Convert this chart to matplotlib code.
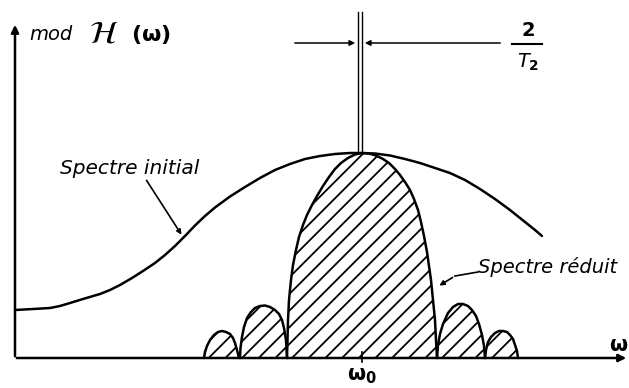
import matplotlib.pyplot as plt

# drawing units: x measured from the vertical axis, y from the frequency axis
OMEGA0 = 347

# broad initial spectrum
init_x = [0, 18, 35, 45, 55, 68, 85, 95, 105, 117, 128, 140, 150, 160, 170,
          180, 190, 200, 215, 230, 245, 260, 275, 290, 305, 320, 335, 347,
          360, 375, 390, 405, 420, 435, 450, 465, 480, 495, 510, 520, 527]
init_y = [48, 49, 50, 52, 55, 59, 64, 68, 73, 80, 87, 95, 103, 112, 122,
          132.5, 142, 150.5, 161.5, 171, 180, 188, 194, 199, 202, 204, 205, 205,
          204.5, 202.5, 199, 195, 190, 185, 178, 169, 159, 148, 136, 128, 122]

# reduced spectrum: main lobe and two side lobes on each side
main_x = [272, 272.5, 273, 274, 276, 278, 281, 284, 288, 292, 297, 302, 308,
          314, 320, 326, 333, 340, 347, 354, 361, 368, 374, 380, 385, 390,
          395, 399, 403, 406, 409, 412, 414, 416, 418, 420, 421, 422]
main_y = [0, 18, 38, 58, 78, 93, 108, 121, 133, 143, 153, 162, 172, 181, 189,
          195, 200, 203.5, 205, 204.5, 202.5, 199, 195, 189, 183, 176, 168,
          159, 148, 136, 122, 106, 92, 78, 58, 38, 18, 0]

left2_x = [189, 190, 192, 195, 199, 203, 207, 211, 215, 218, 220, 222, 224]
left2_y = [0, 6, 12, 18, 23, 26, 27, 26, 24, 20, 15, 8, 0]
left1_x = [225, 225.5, 227, 229, 232, 236, 240, 245, 250, 255, 260, 264, 267,
           269, 271, 272]
left1_y = [0, 10, 21, 31, 40, 46, 50, 52, 52.5, 51, 48, 44, 38, 30, 18, 0]
right1_x = [422, 423, 425, 428, 433, 438, 443, 448, 453, 457, 461, 464, 467,
            469, 470]
right1_y = [0, 13, 24, 34, 45, 51, 54, 54, 52, 48, 42, 34, 23, 12, 0]
right2_x = [470, 471, 473, 476, 480, 484, 488, 492, 495, 498, 500, 502, 503]
right2_y = [0, 8, 16, 21, 25, 27, 27, 26, 23, 19, 13, 7, 0]

lobes = [(left2_x, left2_y), (left1_x, left1_y), (main_x, main_y),
         (right1_x, right1_y), (right2_x, right2_y)]

fig = plt.figure(figsize=(6.29, 3.88), dpi=100)
ax = fig.add_axes([0, 0, 1, 1])
ax.set_xlim(-15, 614)
ax.set_ylim(-30, 358)
ax.axis("off")
plt.rcParams["hatch.linewidth"] = 1.3

txt = dict(family="DejaVu Sans", style="italic", color="black")

# axes with arrowheads
ax.annotate("", xy=(0, 336), xytext=(0, -1),
            arrowprops=dict(arrowstyle="-|>", lw=1.8, color="black", mutation_scale=11))
ax.annotate("", xy=(614, 0), xytext=(-1, 0),
            arrowprops=dict(arrowstyle="-|>", lw=1.8, color="black", mutation_scale=11))
ax.plot([OMEGA0, OMEGA0], [-4, 6], color="black", lw=1.2)

# hatched reduced spectrum
for lx, ly in lobes:
    ax.fill(lx, ly, facecolor="none", edgecolor="black", linewidth=0, hatch="//")
    ax.plot(lx, ly, color="black", lw=1.8, solid_capstyle="round",
            solid_joinstyle="round")

# initial spectrum
ax.plot(init_x, init_y, color="black", lw=1.8, solid_capstyle="round",
        solid_joinstyle="round")

# double line marking the 2/T2 width
gap = 4
for xv in (OMEGA0 - gap, OMEGA0):
    ax.plot([xv, xv], [205, 346], color="black", lw=1.0)
ax.annotate("", xy=(OMEGA0 - gap, 315), xytext=(277, 315),
            arrowprops=dict(arrowstyle="-|>", lw=1.1, color="black", mutation_scale=8))
ax.annotate("", xy=(OMEGA0, 315), xytext=(488, 315),
            arrowprops=dict(arrowstyle="-|>", lw=1.1, color="black", mutation_scale=8))
ax.text(513, 327, "2", ha="center", va="center", fontsize=14,
        family="DejaVu Sans", weight="bold")
ax.plot([497, 527], [314, 314], color="black", lw=1.5)
ax.text(513, 296, r"$\mathbf{\mathit{T}_2}$", ha="center", va="center", fontsize=14)

# labels
ax.text(14, 323, "mod", ha="left", va="center", fontsize=14, **txt)
ax.text(74, 324, r"$\mathcal{H}$", ha="left", va="center", fontsize=23)
ax.text(116, 323, r"($\mathbf{\omega}$)", ha="left", va="center", fontsize=16,
        family="DejaVu Sans", weight="bold")
ax.text(45, 190, "Spectre initial", ha="left", va="center", fontsize=14.5, **txt)
ax.annotate("", xy=(168, 121), xytext=(130, 180),
            arrowprops=dict(arrowstyle="-|>", lw=1.2, color="black", mutation_scale=7))
ax.text(463, 91, "Spectre réduit", ha="left", va="center", fontsize=14, **txt)
ax.plot([463, 440], [86, 82], color="black", lw=1.2)
ax.annotate("", xy=(422, 71), xytext=(440, 82),
            arrowprops=dict(arrowstyle="-|>", lw=1.2, color="black", mutation_scale=7))
ax.text(OMEGA0, -18, r"$\mathbf{\omega_0}$", ha="center", va="center", fontsize=15)
ax.text(613, 13, r"$\mathbf{\omega}$", ha="right", va="center", fontsize=15)

fig.savefig("out.png", dpi=100)
